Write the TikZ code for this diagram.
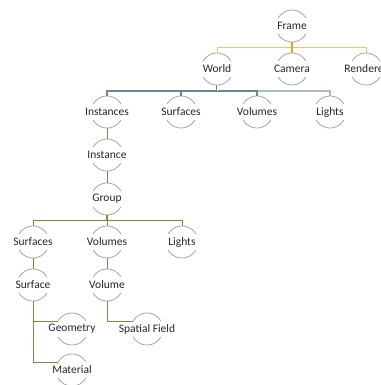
\documentclass[tikz,border=0pt]{standalone}
\usepackage{fontspec}
\setmainfont{Carlito}
\definecolor{ringgray}{HTML}{A6A6A6}
\definecolor{txt}{HTML}{262626}
\definecolor{goldthick}{HTML}{DDA50E}
\definecolor{goldbar}{HTML}{EFC560}
\definecolor{bluedark}{HTML}{6A829E}
\definecolor{bluelight}{HTML}{AABACB}
\definecolor{grn}{HTML}{6A9440}
\newcommand\hnode[4]{%
  \node[hub] (#1) at (#2,#3) {};
  \node[lbl] (#1-t) at (#1) {#4};
  \draw[ring] (#1.30) arc[start angle=30,end angle=150,radius=16pt];
  \draw[ring] (#1.210) arc[start angle=210,end angle=330,radius=16pt];
}
\begin{document}
\begin{tikzpicture}[x=1pt,y=-1pt,
  hub/.style={circle,minimum size=32pt,inner sep=0pt,outer sep=0pt},
  ring/.style={draw=ringgray,line width=0.8pt},
  lbl/.style={font=\fontsize{11.5}{13}\selectfont,text=txt,inner sep=0pt},
  gthick/.style={draw=goldthick,line width=2.2pt},
  gbar/.style={draw=goldbar,line width=0.9pt},
  bdark/.style={draw=bluedark,line width=1.1pt},
  blight/.style={draw=bluelight,line width=1.1pt},
  bdouble/.style={draw=bluedark,double=white,double distance=0.9pt,line width=0.7pt},
  gline/.style={draw=grn,line width=0.9pt},
  gthk/.style={draw=grn,line width=1.8pt}]
\useasboundingbox (0,0) rectangle (380,385);
\clip (0,0) rectangle (380,385);
\hnode{frame}{292}{26}{Frame}
\hnode{world}{217}{69}{World}
\hnode{camera}{292}{69}{Camera}
\hnode{renderer}{366}{69}{Renderer}
\hnode{instances}{107}{112}{Instances}
\hnode{wsurfaces}{181}{112}{Surfaces}
\hnode{wvolumes}{257}{112}{Volumes}
\hnode{wlights}{330}{112}{Lights}
\hnode{instance}{107}{155}{Instance}
\hnode{group}{107}{199}{Group}
\hnode{gsurfaces}{33}{242}{Surfaces}
\hnode{gvolumes}{107}{242}{Volumes}
\hnode{glights}{182}{242}{Lights}
\hnode{surface}{33}{285}{Surface}
\hnode{volume}{107}{285}{Volume}
\hnode{geometry}{72}{329}{Geometry}
\hnode{spatial}{147}{329}{Spatial Field}
\hnode{material}{72}{370}{Material}
% gold
\coordinate (b1) at (292,47);
\draw[gbar] (b1) -| (world.north);
\draw[gbar] (b1) -| (renderer.north);
\draw[gthick] (frame.south) -- (camera.north);
% blue
\coordinate (b2) at (217,91);
\draw[blight] (wvolumes.north |- b2) -| (wlights.north);
\draw[bdark] (b2) -| (instances.north);
\draw[bdark] (b2) -| (wsurfaces.north);
\draw[bdark] (b2) -| (wvolumes.north);
\draw[bdouble] (world.south) -- (b2);
% green
\draw[gline] (instances.south) -- (instance.north);
\draw[gline] (instance.south) -- (group.north);
\coordinate (b3) at (107,220);
\draw[gline] (b3) -| (gsurfaces.north);
\draw[gline] (b3) -| (glights.north);
\draw[gline] (b3) -- (gvolumes.north);
\draw[gthk] (group.south) -- (b3);
\draw[gline] (gsurfaces.south) -- (surface.north);
\draw[gline] (gvolumes.south) -- (volume.north);
\draw[gline] (surface.south) |- (geometry.150);
\draw[gline] (surface.south) |- (material.150);
\draw[gline] (volume.south) |- (spatial.150);
\end{tikzpicture}
\end{document}
